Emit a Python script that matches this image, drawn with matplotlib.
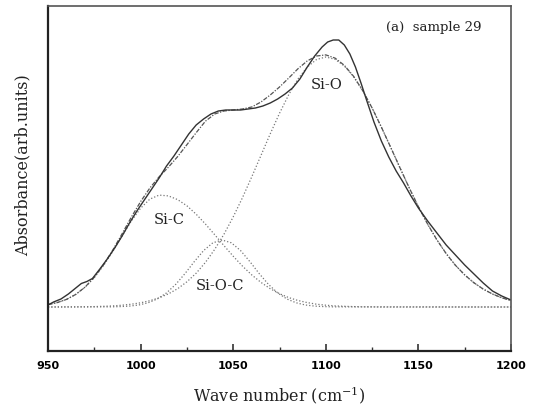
import matplotlib
matplotlib.use("Agg")
import matplotlib.pyplot as plt
from matplotlib.ticker import MultipleLocator

# Measured spectrum (solid line)
meas_x = [950, 953, 957, 961, 965, 968, 971, 974, 978, 982, 986, 990, 994, 998,
          1002, 1006, 1010, 1014, 1018, 1022, 1026, 1030, 1034, 1038, 1042, 1046,
          1050, 1054, 1058, 1062, 1066, 1070, 1074, 1078, 1082, 1086, 1090, 1094,
          1098, 1101, 1104, 1107, 1110, 1113, 1116, 1119, 1122, 1126, 1130, 1134,
          1138, 1142, 1146, 1150, 1155, 1160, 1165, 1170, 1175, 1180, 1185, 1190,
          1195, 1200]
meas_y = [2, 5, 8, 13, 19, 23.5, 25.5, 28.5, 38, 48, 59, 71, 84, 96,
          107, 118, 129, 141, 151, 162, 173, 182, 188, 193, 196, 197,
          197, 197, 198, 199, 201, 204, 208, 213, 219, 228, 240, 251,
          260, 265, 267, 267, 262, 253, 240, 224, 207, 185, 166, 150,
          136, 124, 111, 99, 86, 74, 62, 52, 42, 33, 24, 16,
          11, 7]

# Fitted sum (dash-dot line)
fit_x = [950, 955, 960, 965, 970, 975, 980, 985, 990, 995, 1000, 1005, 1010,
         1015, 1020, 1025, 1030, 1035, 1040, 1045, 1050, 1055, 1060, 1065, 1070,
         1075, 1080, 1085, 1090, 1095, 1100, 1105, 1110, 1115, 1120, 1125, 1130,
         1135, 1140, 1145, 1150, 1155, 1160, 1165, 1170, 1175, 1180, 1185, 1190,
         1195, 1200]
fit_y = [2.4, 4.4, 7.6, 12.6, 19.9, 29.8, 42.2, 57.0, 73.2, 89.9, 105.4, 119.0, 130.2,
         139.8, 150.4, 162.3, 174.3, 185.8, 193, 196, 197, 198, 200, 205, 212,
         220, 229, 238.3, 246.1, 251.0, 252.1, 248.9, 241.7, 230.7, 216.2, 199.0, 179.9,
         159.8, 139.4, 119.3, 100.3, 82.8, 67.1, 53.4, 41.7, 32.1, 24.2, 17.9, 13.0,
         9.2, 6.5]

# Component bands (dotted lines)
sic_x = [950, 955, 960, 965, 970, 975, 980, 985, 990, 995, 1000, 1005, 1010,
         1015, 1020, 1025, 1030, 1035, 1040, 1045, 1050, 1055, 1060, 1065, 1070,
         1075, 1080, 1085, 1090, 1095, 1100, 1105, 1110, 1115, 1120, 1130, 1200]
sic_y = [2.4, 4.4, 7.6, 12.6, 19.7, 29.4, 41.5, 55.7, 71.0, 86.0, 98.8, 107.9, 111.9,
         111.1, 107.4, 101.2, 92.8, 83.0, 72.3, 61.4, 50.8, 40.9, 32.1, 24.6, 18.3,
         13.3, 9.4, 6.5, 4.4, 2.8, 1.8, 1.1, 0.7, 0.4, 0.2, 0, 0]

sioc_x = [950, 984, 989, 994, 999, 1004, 1009, 1014, 1019, 1024, 1029, 1034, 1039,
          1044, 1049, 1054, 1059, 1064, 1069, 1074, 1079, 1084, 1089, 1094, 1099,
          1104, 1200]
sioc_y = [0, 0.15, 0.4, 0.9, 2.0, 4.2, 8.0, 14.1, 22.7, 33.5, 45.4, 56.4, 64.2,
          67, 64.2, 56.4, 45.4, 33.5, 22.7, 14.1, 8.0, 4.2, 2.0, 0.9, 0.4,
          0.15, 0]

sio_x = [950, 960, 965, 970, 975, 980, 985, 990, 995, 1000, 1005, 1010, 1015, 1020,
         1025, 1030, 1035, 1040, 1045, 1050, 1055, 1060, 1065, 1070, 1075, 1080,
         1085, 1090, 1095, 1100, 1105, 1110, 1115, 1120, 1125, 1130, 1135, 1140,
         1145, 1150, 1155, 1160, 1165, 1170, 1175, 1180, 1185, 1190, 1195, 1200]
sio_y = [0, 0.1, 0.15, 0.25, 0.4, 0.7, 1.1, 1.8, 2.8, 4.2, 6.3, 9.2, 13.1, 18.3,
         25.2, 33.8, 44.6, 57.6, 72.7, 90.1, 109.3, 130.1, 151.6, 173.2, 193.7, 212.4,
         228.1, 240.0, 247.5, 250, 247.7, 241.0, 230.3, 216.0, 199.0, 179.9, 159.8, 139.4,
         119.3, 100.3, 82.8, 67.1, 53.4, 41.7, 32.1, 24.2, 17.9, 13.0, 9.2, 6.5]

x_ticks = [950, 1000, 1050, 1100, 1150, 1200]
x_tick_labels = ["950", "1000", "1050", "1100", "1150", "1200"]

fig = plt.figure(figsize=(5.34, 4.12), dpi=100)
ax = fig.add_axes([48 / 534, 1 - 351 / 412, 463 / 534, 345 / 412])

ax.plot(sic_x, sic_y, color="#777777", lw=0.9, linestyle=(0, (1, 1.6)))
ax.plot(sioc_x, sioc_y, color="#777777", lw=0.9, linestyle=(0, (1, 1.6)))
ax.plot(sio_x, sio_y, color="#777777", lw=0.9, linestyle=(0, (1, 1.6)))
ax.plot(fit_x, fit_y, color="#555555", lw=0.9, linestyle=(0, (3.5, 1.2, 1, 1.2)))
ax.plot(meas_x, meas_y, color="#333333", lw=1.0)

ax.set_xlim(950, 1200)
ax.set_ylim(-44, 301)
ax.set_xticks(x_ticks)
ax.set_xticklabels(x_tick_labels, fontdict={"family": "DejaVu Sans", "weight": "bold", "size": 8})
ax.xaxis.set_minor_locator(MultipleLocator(25))
ax.tick_params(axis="x", which="major", direction="in", length=5, width=1.2, color="#333333", pad=7)
ax.tick_params(axis="x", which="minor", direction="in", length=3, width=1.0, color="#333333")
ax.set_yticks([])

for side in ["left", "bottom"]:
    ax.spines[side].set_linewidth(1.6)
    ax.spines[side].set_color("#222222")
for side in ["top", "right"]:
    ax.spines[side].set_linewidth(1.2)
    ax.spines[side].set_color("#555555")

serif = "DejaVu Serif"
ax.set_xlabel(r"Wave number (cm$^{\mathregular{-1}}$)", fontsize=11.5, family=serif, color="#222222")
ax.xaxis.set_label_coords(0.5, -0.098)
ax.set_ylabel("Absorbance(arb.units)", fontsize=11.5, family=serif, color="#222222")
ax.yaxis.set_label_coords(-0.035, 0.539)

ax.text(1132.5, 279, "(a)  sample 29", fontsize=9.5, family=serif, color="#222222",
        ha="left", va="center")
ax.text(1100.6, 222, "Si-O", fontsize=10.5, family=serif, color="#222222", ha="center", va="center")
ax.text(1015.3, 87, "Si-C", fontsize=10.5, family=serif, color="#222222", ha="center", va="center")
ax.text(1043.1, 21, "Si-O-C", fontsize=10.5, family=serif, color="#222222", ha="center", va="center")

fig.savefig("out.png", dpi=100)
